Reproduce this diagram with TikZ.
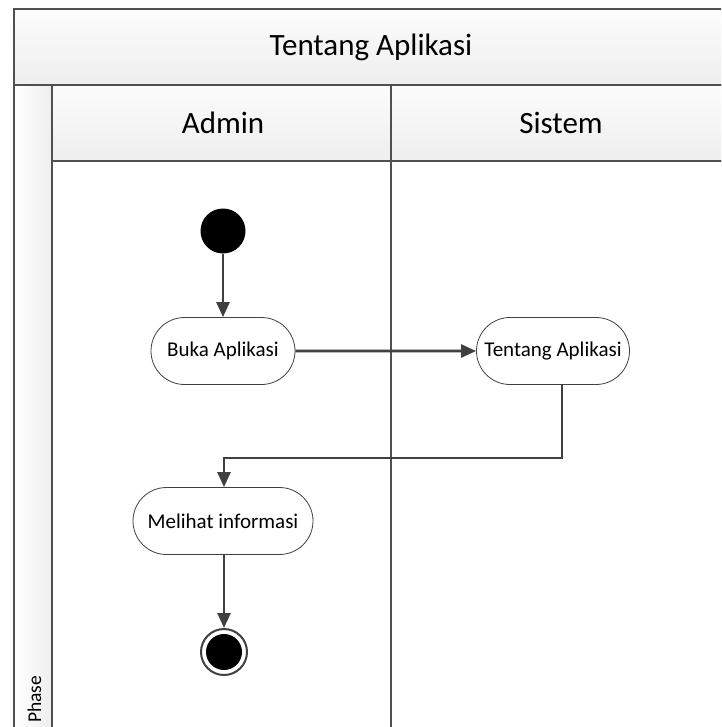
\documentclass[tikz,border=0pt]{standalone}
\usepackage{fontspec}
\setmainfont{Carlito}
\usetikzlibrary{arrows.meta,shapes.misc,shadings}
\definecolor{frameline}{HTML}{505050}
\definecolor{flowline}{HTML}{404040}
\definecolor{headtop}{HTML}{FCFCFC}
\definecolor{headbot}{HTML}{EEEEEE}
\tikzset{
  frame/.style={draw=frameline, line width=2pt},
  header/.style={frame, top color=headtop, bottom color=headbot},
  headtext/.style={font=\fontsize{31}{36}\selectfont},
  action/.style={rounded rectangle, draw=flowline, line width=0.8pt, fill=white,
    minimum width=144pt, minimum height=67pt, font=\fontsize{21}{25}\selectfont, inner sep=0pt},
  flow/.style={draw=flowline, line width=2.6pt, -{Triangle[length=15pt,width=13pt]}},
  startnode/.style={circle, fill=black, minimum size=45pt, inner sep=0pt},
}
\begin{document}
\begin{tikzpicture}[x=1pt,y=-1pt]
\useasboundingbox (0,0) rectangle (721,727);
\fill[white] (0,0) rectangle (721,727);
\begin{scope}
\clip (0,0) rectangle (721,727);
% pool title band
\path[header] (14,9) rectangle (760,85);
\node[headtext] (title) at (371,47) {Tentang Aplikasi};
% phase column
\path[frame, left color=white, right color=headbot] (14,85) rectangle (52,760);
\node[rotate=90, anchor=base west, font=\fontsize{19.5}{23}\selectfont, inner sep=0pt] (phase) at (41,723) {Phase};
% lane headers
\path[header] (52,85) rectangle (391,161);
\path[header] (391,85) rectangle (760,161);
\node[headtext] (admin) at (223,123) {Admin};
\node[headtext] (sistem) at (561,123) {Sistem};
% lane bodies
\draw[frame] (52,161) rectangle (391,760);
\draw[frame] (391,161) rectangle (760,760);
\end{scope}
% activity flow
\node[startnode] (start) at (223,231) {};
\node[action] (buka) at (223,351) {Buka Aplikasi};
\node[action, minimum width=153pt] (tentang) at (553,351) {Tentang Aplikasi};
\node[action, minimum width=180pt] (lihat) at (223,521) {Melihat informasi};
\node[circle, draw=flowline, line width=2pt, fill=white, minimum size=46pt, inner sep=0pt] (end) at (224,652) {};
\node[circle, fill=black, minimum size=36pt, inner sep=0pt] (endcore) at (end.center) {};
\draw[flow] (start) -- (buka.north -| start);
\draw[flow] (buka) -- (tentang);
\coordinate (turn) at (562,458);
\draw[flow] (tentang.south -| turn) -- (turn) -| (lihat.north -| end);
\draw[flow] (lihat.south -| end) -- (end.north);
\end{tikzpicture}
\end{document}
